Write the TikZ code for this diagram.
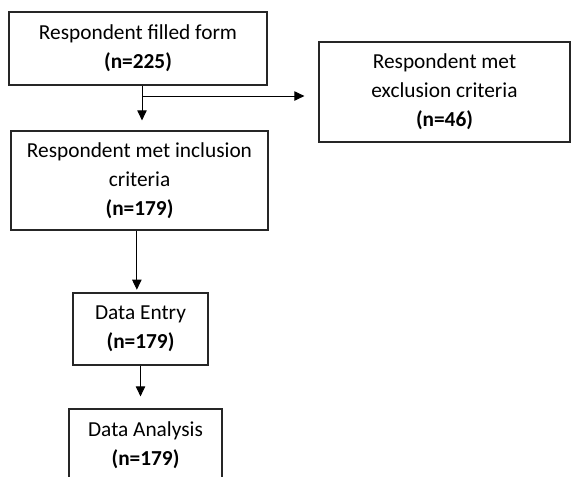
\documentclass[tikz,border=0pt]{standalone}
\usepackage{fontspec}
\setmainfont{Carlito}
\usetikzlibrary{arrows.meta}
\begin{document}
\begin{tikzpicture}[
    x=0.75pt,
    y=-0.75pt,
    >={Triangle[length=7.5pt,width=7pt]},
    font=\fontsize{16pt}{21.75pt}\selectfont,
    caja/.style={draw=black!85,line width=0.9pt,align=center,inner sep=0pt},
    flujo/.style={line width=0.7pt,->}
]
    \useasboundingbox (0,0) rectangle (571,476);

    \node[caja,minimum width=193.5pt,minimum height=54.75pt] (form) at (138,48.5)
        {Respondent filled form\\\textbf{(n=225)}};
    \node[caja,minimum width=188.25pt,minimum height=75pt] (excl) at (444.5,92)
        {Respondent met\\exclusion criteria\\\textbf{(n=46)}};
    \node[caja,minimum width=192.75pt,minimum height=74.25pt] (incl) at (139.5,180.5)
        {Respondent met inclusion\\criteria\\\textbf{(n=179)}};
    \node[caja,minimum width=101.25pt,minimum height=54pt] (entry) at (140.5,329)
        {Data Entry\\\textbf{(n=179)}};
    \node[caja,minimum width=114.75pt,minimum height=54pt] (analysis) at (145.5,445)
        {Data Analysis\\\textbf{(n=179)}};

    \coordinate (split) at (142,96);
    \draw[flujo] (form.south -| split) -- ([yshift=7.5pt]incl.north -| split);
    \draw[flujo] (split) -- ([xshift=-10.5pt]excl.west |- split);
    \draw[flujo] ([xshift=-2pt]incl.south) -- ([xshift=-2pt,yshift=2pt]incl.south |- entry.north);
    \draw[flujo] (entry.south) -- ([yshift=9pt]analysis.north -| entry.south);
\end{tikzpicture}
\end{document}
